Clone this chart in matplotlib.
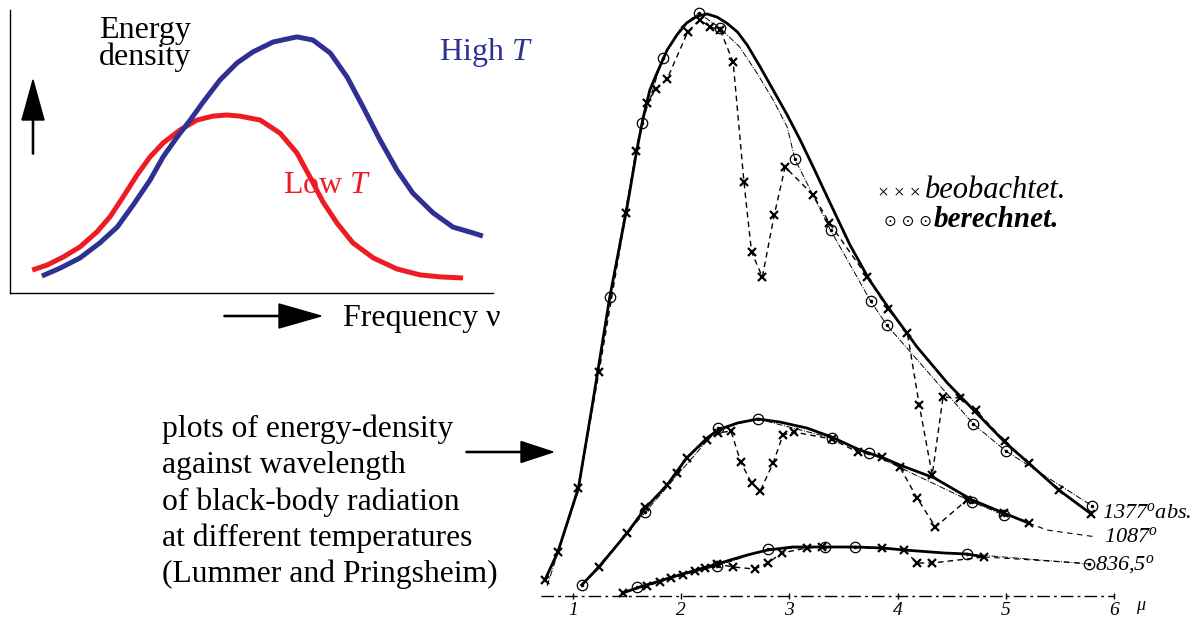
import matplotlib.pyplot as plt

plt.rcParams['font.family'] = ['Liberation Serif', 'DejaVu Serif']
plt.rcParams['mathtext.fontset'] = 'custom'
plt.rcParams['mathtext.rm'] = 'Liberation Serif'
plt.rcParams['mathtext.it'] = 'Liberation Serif:italic'

# --- schematic panel: energy density vs frequency (arbitrary units) ---
low_nu = [0.46, 0.77, 1.10, 1.45, 1.80, 2.07, 2.34, 2.63, 2.90, 3.17, 3.52,
          3.87, 4.20, 4.49, 4.76, 5.18, 5.59, 5.94, 6.21, 6.48, 6.77, 7.10,
          7.52, 8.01, 8.49, 8.90, 9.38]
low_u = [0.81, 0.99, 1.27, 1.63, 2.16, 2.69, 3.39, 4.17, 4.81, 5.30, 5.76,
         6.11, 6.25, 6.29, 6.25, 6.11, 5.65, 4.95, 4.10, 3.22, 2.47, 1.77,
         1.24, 0.85, 0.64, 0.57, 0.53]
high_nu = [0.66, 1.04, 1.45, 1.86, 2.22, 2.55, 2.90, 3.17, 3.46, 3.73, 4.00,
           4.35, 4.70, 5.03, 5.45, 5.94, 6.27, 6.63, 6.98, 7.31, 7.66, 8.01,
           8.34, 8.76, 9.17, 9.59, 9.79]
high_u = [0.60, 0.88, 1.24, 1.77, 2.33, 3.11, 3.99, 4.81, 5.51, 6.11, 6.75,
          7.53, 8.13, 8.52, 8.87, 9.05, 8.94, 8.48, 7.63, 6.57, 5.41, 4.35,
          3.53, 2.83, 2.33, 2.12, 2.01]

# --- Lummer & Pringsheim: wavelength (micron) vs energy (arb. units) ---
t1377_lam = [0.74, 0.86, 1.05, 1.18, 1.34, 1.50, 1.59, 1.65, 1.71, 1.78,
             1.87, 1.96, 2.05, 2.15, 2.24, 2.33, 2.42, 2.52, 2.61, 2.73,
             2.85, 2.98, 3.10, 3.22, 3.35, 3.56, 3.74, 3.93, 4.18, 4.46,
             4.72, 4.99, 5.21, 5.49, 5.79]
t1377_e = [1.6, 4.4, 10.8, 19.2, 29.9, 38.9, 44.6, 47.9, 50.6, 52.4,
           54.6, 56.1, 57.3, 58.0, 58.2, 57.9, 57.3, 56.4, 55.1, 52.9,
           50.6, 48.1, 45.6, 42.9, 39.9, 35.1, 31.6, 28.6, 24.9, 21.3,
           18.4, 15.4, 13.3, 10.6, 8.2]
t1377_obs_lam = [0.74, 0.86, 1.05, 1.24, 1.49, 1.58, 1.68, 1.77, 1.87, 2.06,
                 2.17, 2.27, 2.36, 2.48, 2.58, 2.65, 2.75, 2.86, 2.96, 3.22,
                 3.37, 3.72, 3.91, 4.09, 4.20, 4.32, 4.42, 4.58, 4.72, 4.99,
                 5.21, 5.49, 5.79]
t1377_obs_e = [1.6, 4.4, 10.8, 22.4, 38.3, 44.5, 49.3, 50.7, 51.7, 56.4,
               57.6, 56.9, 56.6, 53.4, 41.4, 34.4, 31.9, 38.1, 42.9, 40.1,
               37.3, 31.9, 28.7, 26.3, 19.1, 12.1, 19.9, 19.8, 18.6, 15.5,
               13.3, 10.6, 8.2]
t1377_calc_lam = [1.34, 1.64, 1.83, 2.16, 2.36, 3.05, 3.38, 3.75, 3.90, 4.70,
                  5.00, 5.80]
t1377_calc_e = [29.9, 47.3, 53.8, 58.3, 56.8, 43.7, 36.6, 29.5, 27.1, 17.2,
                14.5, 9.0]
# thin computed curve
t1377_curve_lam = [0.76, 1.05, 1.18, 1.34, 1.50, 1.64, 1.83, 2.00, 2.16,
                   2.36, 2.54, 2.70, 2.85, 2.98, 3.05, 3.38, 3.75, 3.90,
                   4.70, 5.00, 5.80]
t1377_curve_e = [1.0, 10.5, 19.0, 29.9, 39.5, 47.3, 53.8, 56.9, 58.3,
                 56.8, 54.9, 52.3, 49.6, 46.9, 43.7, 36.6, 29.5, 27.1,
                 17.2, 14.5, 9.0]

t1087_lam = [1.08, 1.24, 1.50, 1.67, 1.87, 2.05, 2.24, 2.34, 2.52, 2.71, 2.91,
             3.16, 3.39, 3.65, 3.87, 4.02, 4.34, 4.69, 4.98, 5.21]
t1087_e = [1.1, 2.9, 6.3, 8.8, 11.1, 13.8, 15.8, 16.6, 17.3, 17.7, 17.4,
           16.8, 15.9, 14.6, 13.8, 13.1, 11.8, 9.6, 8.3, 7.3]
t1087_tail_lam = [5.21, 5.38, 5.84]
t1087_tail_e = [7.3, 6.6, 5.9]
t1087_obs_lam = [1.24, 1.50, 1.67, 1.87, 1.96, 2.05, 2.24, 2.34, 2.46, 2.55,
                 2.65, 2.73, 2.85, 2.94, 3.04, 3.39, 3.63, 3.86, 4.02, 4.18,
                 4.35, 4.64, 4.98, 5.21]
t1087_obs_e = [2.9, 6.3, 8.9, 11.1, 12.3, 13.8, 15.6, 16.3, 16.5, 13.4,
               11.3, 10.5, 13.3, 16.1, 16.4, 15.7, 14.4, 13.9, 12.9, 9.8,
               6.9, 9.6, 8.3, 7.3]
t1087_calc_lam = [1.08, 1.67, 2.34, 2.71, 3.39, 3.74, 4.69, 4.98]
t1087_calc_e = [1.1, 8.4, 16.8, 17.7, 15.8, 14.3, 9.4, 8.1]

t836_lam = [1.46, 1.59, 1.92, 2.33, 2.61, 2.80, 3.03, 3.33, 3.61, 3.86, 4.06,
            4.43, 4.64, 4.80]
t836_e = [0.3, 0.8, 1.9, 3.2, 4.1, 4.6, 4.9, 4.9, 4.9, 4.8, 4.6, 4.3, 4.2, 3.9]
t836_tail_lam = [4.80, 5.10, 5.69]
t836_tail_e = [3.9, 3.7, 3.3]
t836_obs_lam = [1.46, 1.68, 1.80, 1.91, 2.02, 2.13, 2.22, 2.33, 2.48, 2.68,
                2.80, 2.93, 3.16, 3.30, 3.86, 4.06, 4.18, 4.32, 4.80]
t836_obs_e = [0.3, 1.0, 1.4, 1.8, 2.1, 2.5, 2.8, 3.2, 2.9, 2.7, 3.3, 4.3,
              4.8, 4.9, 4.8, 4.6, 3.3, 3.3, 3.9]
t836_calc_lam = [1.59, 2.33, 2.80, 3.33, 3.61, 4.64, 5.77]
t836_calc_e = [0.9, 3.0, 4.7, 4.9, 4.9, 4.2, 3.2]

wl_ticks = [1, 2, 3, 4, 5, 6]
temp_labels = ['1377$^o$abs.', '1087$^o$', '836,5$^o$']
caption = ['plots of energy-density', 'against wavelength',
           'of black-body radiation', 'at different temperatures',
           '(Lummer and Pringsheim)']

RED = '#ed1c24'
BLUE = '#2e3192'
W, H = 1197, 618

fig = plt.figure(figsize=(W / 100, H / 100), dpi=100)

# schematic axes
ax_l = fig.add_axes([10 / W, (H - 293) / H, 483 / W, 283 / H])
ax_l.plot(low_nu, low_u, color=RED, lw=3.6, solid_capstyle='butt',
          solid_joinstyle='round')
ax_l.plot(high_nu, high_u, color=BLUE, lw=3.6, solid_capstyle='butt',
          solid_joinstyle='round')
ax_l.set_xlim(0, 10)
ax_l.set_ylim(0, 10)
ax_l.set_xticks([])
ax_l.set_yticks([])
for s in ['top', 'right']:
    ax_l.spines[s].set_visible(False)
for s in ['left', 'bottom']:
    ax_l.spines[s].set_linewidth(1.0)
ax_l.patch.set_alpha(0)

# historical plot axes
ax_r = fig.add_axes([530 / W, 0, 630 / W, 1])
ax_r.set_xlim(1 + (530 - 573) / 108.2, 1 + (1160 - 573) / 108.2)
ax_r.set_ylim(-2.2, 59.6)
ax_r.axis('off')

ax_r.plot([0.70, 6.0], [0, 0], color='k', lw=1.0, ls=(0, (9, 3, 2, 3)))
ax_r.plot(wl_ticks, [0] * len(wl_ticks), '|', color='k', ms=5, mew=1)
for t in wl_ticks:
    ax_r.text(t, -1.9, str(t), style='italic', fontsize=14, ha='center',
              va='baseline')
ax_r.text(6.2, -1.4, 'μ', style='italic', fontsize=13, ha='left',
          va='baseline')

ax_r.plot(t1377_curve_lam, t1377_curve_e, color='k', lw=0.7, ls='-.')
series = [
    (t1377_lam, t1377_e, t1377_obs_lam, t1377_obs_e, t1377_calc_lam, t1377_calc_e),
    (t1087_lam, t1087_e, t1087_obs_lam, t1087_obs_e, t1087_calc_lam, t1087_calc_e),
    (t836_lam, t836_e, t836_obs_lam, t836_obs_e, t836_calc_lam, t836_calc_e),
]
for i, (lam, e, olam, oe, clam, ce) in enumerate(series):
    if i > 0:
        ax_r.plot(clam, ce, color='k', lw=0.7, ls='-.')
    ax_r.plot(olam, oe, color='k', lw=1.0, ls=(0, (4, 3)))
    ax_r.plot(lam, e, color='k', lw=2.0, solid_joinstyle='round')
    ax_r.plot(olam, oe, 'x', color='k', ms=6, mew=1.6)
    ax_r.plot(clam, ce, 'o', color='k', mfc='none', ms=7.5, mew=0.9)
    ax_r.plot(clam, ce, '.', color='k', ms=3)
ax_r.plot(t1087_tail_lam, t1087_tail_e, color='k', lw=0.8, ls=(0, (5, 4)))
ax_r.plot(t836_tail_lam, t836_tail_e, color='k', lw=0.8, ls=(0, (5, 4)))

# overlay in pixel coordinates for free text and arrows
ov = fig.add_axes([0, 0, 1, 1])
ov.set_xlim(0, W)
ov.set_ylim(H, 0)
ov.axis('off')
ov.patch.set_alpha(0)

ov.text(99, 38, 'Energy', fontsize=23, va='baseline')
ov.text(99, 65, 'density', fontsize=23, va='baseline')
ov.text(439, 60, 'High $T$', fontsize=23, color=BLUE, va='baseline')
ov.text(283, 193, 'Low $T$', fontsize=23, color=RED, va='baseline')
ov.text(343, 326, 'Frequency ν', fontsize=23, va='baseline')
ov.arrow(33, 154, 0, -74, width=1.2, head_width=22, head_length=40,
         length_includes_head=True, color='k')
ov.arrow(224, 316, 97, 0, width=1.2, head_width=24, head_length=42,
         length_includes_head=True, color='k')

for i, line in enumerate(caption):
    ov.text(162, 437 + i * 36.3, line, fontsize=22.8, va='baseline')
ov.arrow(466, 452, 87, 0, width=1.2, head_width=21, head_length=32,
         length_includes_head=True, color='k')

ov.text(878, 198, '× × ×', fontsize=14, va='baseline')
ov.text(925, 198, 'beobachtet.', fontsize=22, style='italic', va='baseline')
ov.text(884, 226, '⊙ ⊙ ⊙', fontsize=11, va='baseline',
        family=['DejaVu Sans'])
ov.text(934, 227, 'berechnet.', fontsize=21, style='italic', va='baseline',
        weight='bold')

ov.text(1102, 518, temp_labels[0], fontsize=16, style='italic', va='baseline')
ov.text(1104, 542, temp_labels[1], fontsize=16, style='italic', va='baseline')
ov.text(1095, 570, temp_labels[2], fontsize=16, style='italic', va='baseline')

fig.savefig('out.png', dpi=100)
